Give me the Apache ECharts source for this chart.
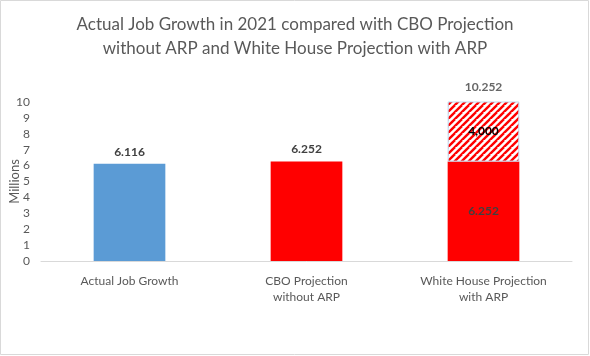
<!DOCTYPE html>
<html><head><meta charset="utf-8">
<script src="https://cdn.jsdelivr.net/npm/echarts@6/dist/echarts.min.js"></script>
<style>html,body{margin:0;padding:0;background:#fff}#c{width:590px;height:356px}</style>
</head><body><div id="c"></div>
<script>
var categories = ['Actual Job Growth', 'CBO Projection\nwithout ARP', 'White House Projection\nwith ARP'];
var actualValues = [6.116, null, null];
var cboValues = [null, 6.252, null];
var whBase = [null, null, 6.252];
var whArp = [null, null, 4.000];
var whTotal = [null, null, 10.252];
var yTicks = [0,1,2,3,4,5,6,7,8,9,10];

var pc = document.createElement('canvas');
pc.width = 7; pc.height = 7;
var ctx = pc.getContext('2d');
ctx.fillStyle = '#fff'; ctx.fillRect(0,0,7,7);
ctx.strokeStyle = '#ff0000'; ctx.lineWidth = 2.4;
for (var k = -7; k <= 14; k += 7) {
  ctx.beginPath(); ctx.moveTo(k-7, 14); ctx.lineTo(k+7, 0); ctx.stroke();
}

var font = 'Lato, "Open Sans", sans-serif';
var fmt = function(p){var v = Array.isArray(p.value)?p.value[1]:p.value; return v==null?'':Number(v).toFixed(3);};
var chart = echarts.init(document.getElementById('c'));
var lbl = {show:true, position:'top', color:'#404040', fontWeight:'bold', fontSize:12, fontFamily:font, distance:6, formatter:fmt};
chart.setOption({
  animation:false,
  textStyle:{fontFamily:font},
  graphic:[{type:'rect', shape:{x:0.5,y:0.5,width:588,height:354}, style:{fill:null, stroke:'#d9d9d9', lineWidth:1}, silent:true}],
  title:{text:'Actual Job Growth in 2021 compared with CBO Projection\nwithout ARP and White House Projection with ARP',
    left:'center', top:8, textStyle:{fontFamily:font, fontSize:17, fontWeight:'normal', color:'#595959', lineHeight:24}},
  grid:{left:41, right:18, top:102, bottom:95, containLabel:false, outerBoundsMode:'none'},
  xAxis:{type:'category', data:categories,
    axisLine:{lineStyle:{color:'#d9d9d9'}}, axisTick:{show:false},
    axisLabel:{color:'#595959', fontSize:12, fontFamily:font, margin:12, lineHeight:16, interval:0}},
  yAxis:{type:'value', min:0, max:10, interval:1, name:'Millions', nameLocation:'middle', nameGap:20, nameMoveOverlap:false,
    nameTextStyle:{color:'#595959', fontSize:13, fontFamily:font},
    splitLine:{show:false}, axisLine:{show:false}, axisTick:{show:false},
    axisLabel:{color:'#595959', fontSize:12, fontFamily:font, margin:11,
      formatter:function(v){return yTicks.indexOf(v)>=0?String(v):'';}}},
  series:[
    {type:'bar', stack:'a', data:actualValues, barWidth:'40.5%', itemStyle:{color:'#5b9bd5'}, label:lbl},
    {type:'bar', stack:'a', data:cboValues, itemStyle:{color:'#ff0000'}, label:lbl},
    {type:'bar', stack:'a', data:whBase, itemStyle:{color:'#ff0000'},
      label:{show:true, position:'inside', color:'#404040', fontWeight:'bold', fontSize:12, fontFamily:font, formatter:fmt}},
    {type:'bar', stack:'a', data:whArp, itemStyle:{color:{image:pc, repeat:'repeat'}, borderColor:'#bdd7ee', borderWidth:1},
      label:{show:true, position:'inside', color:'#000', fontWeight:'bold', fontSize:12, fontFamily:font,
        formatter:function(p){return p.value==null?'':'4,000';}}},
    {type:'scatter', data:whTotal, symbolSize:2, clip:false, itemStyle:{color:'rgba(0,0,0,0)'}, silent:true,
      label:{show:true, position:'top', distance:4, color:'#404040', fontWeight:'bold', fontSize:12, fontFamily:font, formatter:fmt}}
  ]
});
</script></body></html>
